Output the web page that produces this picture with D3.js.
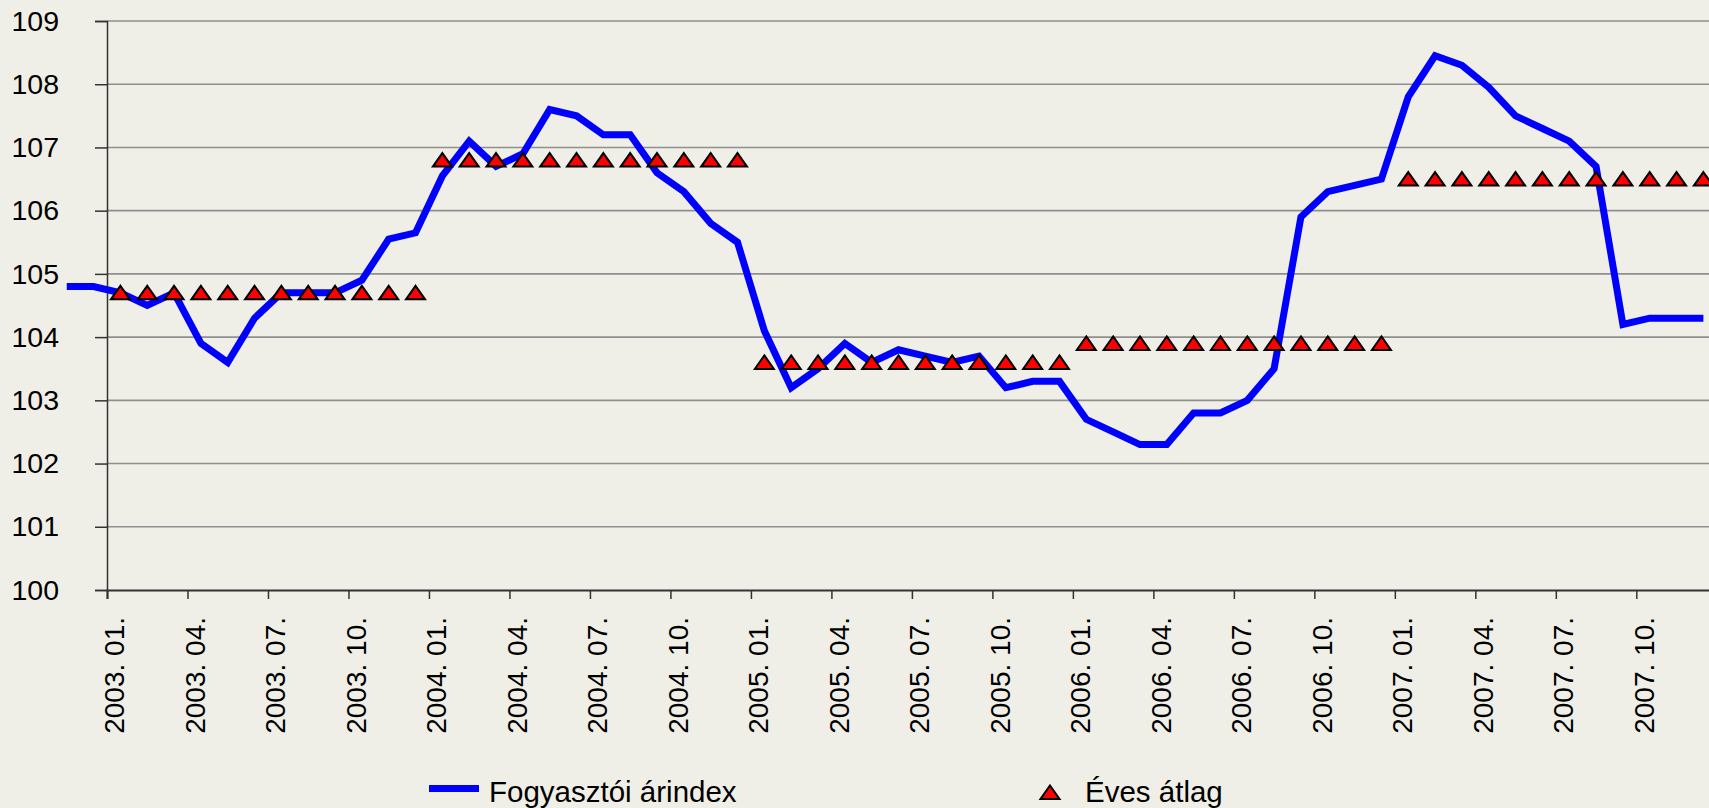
<!DOCTYPE html>
<html lang="hu">
<head>
    <meta charset="utf-8">
    <!-- Load d3.js -->
    <script src="https://d3js.org/d3.v7.min.js"></script>
    <style>
        body { margin: 0; background: #efefe7; }
        text { font-family: "Liberation Sans", Arial, sans-serif; fill: #000; }
    </style>
</head>
<body>
    <div id="my_dataviz"></div>

    <script>
        // years and month codes used to build the categories
        const years = [2003, 2004, 2005, 2006, 2007];
        const monthCodes = ["01", "02", "03", "04", "05", "06", "07", "08", "09", "10", "11", "12"];

        // the line starts two months before the first category
        const leadMonths = ["2002. 11.", "2002. 12."];
        const leadValues = [104.8, 104.8];

        // Fogyasztói árindex (monthly values, 2003. 01. - 2007. 12.)
        const cpiValues = [
            104.7, 104.5, 104.7, 103.9, 103.6, 104.3, 104.7, 104.7, 104.7, 104.9, 105.55, 105.65,
            106.55, 107.1, 106.7, 106.9, 107.6, 107.5, 107.2, 107.2, 106.6, 106.3, 105.8, 105.5,
            104.1, 103.2, 103.5, 103.9, 103.6, 103.8, 103.7, 103.6, 103.7, 103.2, 103.3, 103.3,
            102.7, 102.5, 102.3, 102.3, 102.8, 102.8, 103.0, 103.5, 105.9, 106.3, 106.4, 106.5,
            107.8, 108.45, 108.3, 107.95, 107.5, 107.3, 107.1, 106.7, 104.2, 104.3, 104.3, 104.3
        ];

        // Éves átlag (one value per year, shown on every month)
        const annualAverages = [104.7, 106.8, 103.6, 103.9, 106.5];

        const yTicks = [100, 101, 102, 103, 104, 105, 106, 107, 108, 109];
        const tickMonths = ["01", "04", "07", "10"];

        // build the month categories
        const months = [];
        years.forEach(y => monthCodes.forEach(m => months.push(`${y}. ${m}.`)));

        const width = 1709, height = 808;
        const plot = { left: 107, top: 21, bottom: 590, step: 26.83 };

        const svg = d3.select("#my_dataviz")
            .append("svg")
            .attr("width", width)
            .attr("height", height)
            .style("display", "block")
            .style("background-color", "#efefe7");

        // X scale on month index (0 = 2003. 01.), points sit in the middle of each month
        const x = d3.scaleLinear()
            .domain([0, months.length])
            .range([plot.left, plot.left + months.length * plot.step]);

        const y = d3.scaleLinear()
            .domain([100, 109])
            .range([plot.bottom, plot.top]);

        // horizontal gridlines
        svg.append("g")
            .selectAll("line")
            .data(yTicks.slice(1))
            .join("line")
            .attr("x1", plot.left)
            .attr("x2", width)
            .attr("y1", d => y(d))
            .attr("y2", d => y(d))
            .attr("stroke", "#8f8f8f")
            .attr("stroke-width", 1.6);

        // Y axis
        const yAxis = svg.append("g")
            .attr("transform", `translate(${plot.left},0)`)
            .call(d3.axisLeft(y).tickValues(yTicks).tickSize(12).tickPadding(36).tickFormat(d3.format("d")));
        yAxis.select(".domain").attr("stroke", "#333").attr("stroke-width", 1.5);
        yAxis.selectAll(".tick line").attr("stroke", "#333").attr("stroke-width", 1.5);
        yAxis.selectAll("text")
            .style("font-size", "28.5px")
            .style("font-family", "'Liberation Sans', Arial, sans-serif")
            .attr("fill", "#000");

        // X axis: ticks on the month boundaries every 3 months
        const tickIdx = months.map((m, i) => i).filter(i => i % 3 === 0);
        const xAxis = svg.append("g")
            .attr("transform", `translate(0,${plot.bottom})`)
            .call(d3.axisBottom(x).tickValues(tickIdx).tickSize(9).tickFormat(""));
        xAxis.select(".domain").attr("stroke", "#333").attr("stroke-width", 2);
        xAxis.selectAll(".tick line").attr("stroke", "#333").attr("stroke-width", 1.5);

        // rotated month labels
        svg.append("g")
            .selectAll("text")
            .data(months.filter(m => tickMonths.includes(m.slice(6, 8))))
            .join("text")
            .attr("transform", d => `translate(${x(months.indexOf(d) + 0.5) - 6},617) rotate(-90)`)
            .attr("text-anchor", "end")
            .attr("dy", "0.35em")
            .style("font-size", "28px")
            .text(d => d);

        // line data: lead months + monthly values
        const lineData = leadValues.map((v, i) => ({ i: i - leadValues.length, v: v }))
            .concat(cpiValues.map((v, i) => ({ i: i, v: v })));

        svg.append("path")
            .datum(lineData)
            .attr("fill", "none")
            .attr("stroke", "#0000ff")
            .attr("stroke-width", 7)
            .attr("stroke-linejoin", "miter")
            .attr("d", d3.line().x(d => x(d.i + 0.5)).y(d => y(d.v)));

        // annual average triangles, one per month
        const triangle = "M0,-7L9.5,6.5L-9.5,6.5Z";
        const avgData = months.map((m, i) => ({ i: i, v: annualAverages[Math.floor(i / 12)] }));

        svg.append("g")
            .selectAll("path")
            .data(avgData)
            .join("path")
            .attr("d", triangle)
            .attr("transform", d => `translate(${x(d.i + 0.5)},${y(d.v)})`)
            .attr("fill", "#ff0000")
            .attr("stroke", "#000")
            .attr("stroke-width", 2);

        // legend
        const legend = svg.append("g");
        legend.append("line")
            .attr("x1", 429).attr("x2", 479)
            .attr("y1", 788.5).attr("y2", 788.5)
            .attr("stroke", "#0000ff")
            .attr("stroke-width", 7);
        legend.append("text")
            .attr("x", 489).attr("y", 802)
            .style("font-size", "29.5px")
            .text("Fogyasztói árindex");
        legend.append("path")
            .attr("d", triangle)
            .attr("transform", "translate(1050,792.5)")
            .attr("fill", "#ff0000")
            .attr("stroke", "#000")
            .attr("stroke-width", 2);
        legend.append("text")
            .attr("x", 1085).attr("y", 802)
            .style("font-size", "29.5px")
            .text("Éves átlag");
    </script>
</body>
</html>
